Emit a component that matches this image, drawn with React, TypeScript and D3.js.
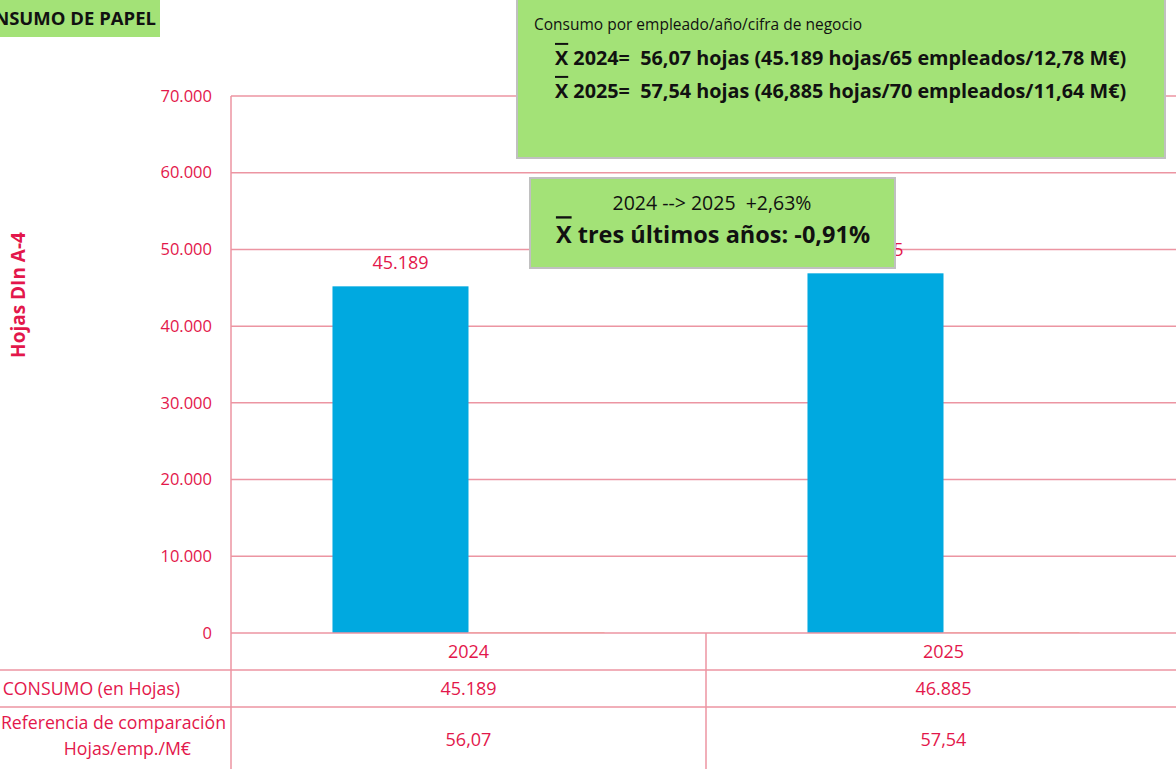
import React from "react";
import * as d3 from "d3";

const years = ["2024", "2025"];
const consumo = [45189, 46885];
const referencia = [56.07, 57.54];
const consumoLabels = ["45.189", "46.885"];
const referenciaLabels = ["56,07", "57,54"];
const yTicks = [0, 10000, 20000, 30000, 40000, 50000, 60000, 70000];

const RED = "#e3174b";
const GRID = "#ec95a2";
const GREEN = "#a3e277";
const BLUE = "#00a9e0";
const FONT = "'Open Sans', sans-serif";

const W = 1176;
const H = 769;
const margin = { top: 96, left: 231, bottom: 136 };

const Xbar = ({ children }: { children: React.ReactNode }) => (
  <>
    <tspan textDecoration="overline">X</tspan>
    {children}
  </>
);

export default function App() {
  const plotBottom = H - margin.bottom;
  const y = d3.scaleLinear().domain([0, 70000]).range([plotBottom, margin.top]);
  const x = d3.scaleBand().domain(years).range([margin.left, margin.left + 950]).paddingInner(0).paddingOuter(0);
  // two series per category (the reference series is tiny on this scale)
  const inner = d3.scaleBand().domain(["consumo", "referencia"]).range([0, x.bandwidth()]).paddingInner(0).paddingOuter(0.746);
  const fmt = (v: number) => d3.format(",")(v).replace(/,/g, ".");

  const row1 = plotBottom + 37;
  const row2 = row1 + 37;
  const pre = { whiteSpace: "pre" } as React.CSSProperties;

  return (
    <svg width={W} height={H} style={{ position: "absolute", left: 0, top: 0, background: "#fff" }} fontFamily={FONT}>
      {/* gridlines + tick labels */}
      {yTicks.map((t) => (
        <g key={t}>
          {t > 0 && <line x1={margin.left} x2={W} y1={y(t)} y2={y(t)} stroke={GRID} strokeWidth={1.5} />}
          <text x={212} y={y(t)} dy="0.35em" textAnchor="end" fill={RED} fontSize={16.5}>
            {fmt(t)}
          </text>
        </g>
      ))}
      <text transform={`translate(25,295) rotate(-90)`} textAnchor="middle" fill={RED} fontSize={19} fontWeight="bold">
        Hojas DIn A-4
      </text>

      {/* bars */}
      {years.map((yr, i) => (
        <g key={yr}>
          <rect x={x(yr)! + inner("consumo")!} width={inner.bandwidth()} y={y(consumo[i])} height={plotBottom - y(consumo[i])} fill={BLUE} />
          <rect x={x(yr)! + inner("referencia")!} width={inner.bandwidth()} y={y(referencia[i])} height={plotBottom - y(referencia[i])} fill="#e97b2e" />
          <text x={x(yr)! + inner("consumo")! + inner.bandwidth() / 2} y={y(consumo[i]) - 24} dy="0.35em" textAnchor="middle" fill={RED} fontSize={18}>
            {consumoLabels[i]}
          </text>
        </g>
      ))}

      {/* data table */}
      <line x1={margin.left} x2={margin.left} y1={margin.top} y2={H} stroke={GRID} strokeWidth={1.5} />
      <line x1={margin.left} x2={W} y1={plotBottom} y2={plotBottom} stroke={GRID} strokeWidth={1.5} />
      <line x1={0} x2={W} y1={row1} y2={row1} stroke={GRID} strokeWidth={1.5} />
      <line x1={0} x2={W} y1={row2} y2={row2} stroke={GRID} strokeWidth={1.5} />
      <line x1={x("2025")} x2={x("2025")} y1={plotBottom} y2={H} stroke={GRID} strokeWidth={1.5} />
      {years.map((yr, i) => {
        const cx = x(yr)! + x.bandwidth() / 2;
        return (
          <g key={yr} fill={RED} fontSize={18} textAnchor="middle">
            <text x={cx} y={(plotBottom + row1) / 2} dy="0.35em">{yr}</text>
            <text x={cx} y={(row1 + row2) / 2} dy="0.35em">{consumoLabels[i]}</text>
            <text x={cx} y={740} dy="0.35em">{referenciaLabels[i]}</text>
          </g>
        );
      })}
      <g fill={RED} fontSize={17.7} textAnchor="end">
        <text x={180} y={(row1 + row2) / 2} dy="0.35em">CONSUMO (en Hojas)</text>
        <text x={226} y={723} dy="0.35em">Referencia de comparación</text>
        <text x={191} y={749} dy="0.35em">Hojas/emp./M€</text>
      </g>

      {/* title */}
      <rect x={-2} y={-2} width={162} height={39} fill={GREEN} />
      <text x={156} y={19} dy="0.35em" textAnchor="end" fontSize={18.5} fontWeight="bold" fill="#111">
        CONSUMO DE PAPEL
      </text>

      {/* info box */}
      <rect x={517} y={-2} width={648} height={160} fill={GREEN} stroke="#c0c0c0" strokeWidth={2} />
      <g fill="#111">
        <text x={534} y={25} dy="0.35em" fontSize={15.5}>Consumo por empleado/año/cifra de negocio</text>
        <text x={555} y={58} dy="0.35em" fontWeight="bold" fontSize={19.8} style={pre}>
          <Xbar>{" 2024=  56,07 hojas (45.189 hojas/65 empleados/12,78 M€)"}</Xbar>
        </text>
        <text x={555} y={91} dy="0.35em" fontWeight="bold" fontSize={19.8} style={pre}>
          <Xbar>{" 2025=  57,54 hojas (46,885 hojas/70 empleados/11,64 M€)"}</Xbar>
        </text>
      </g>

      <rect x={530} y={178} width={365} height={90} fill={GREEN} stroke="#c0c0c0" strokeWidth={2} />
      <text x={712} y={203} dy="0.35em" textAnchor="middle" fill="#111" fontSize={19.5} style={pre}>
        {"2024 --> 2025  +2,63%"}
      </text>
      <text x={713} y={235} dy="0.35em" textAnchor="middle" fill="#111" fontSize={23.5} fontWeight="bold">
        <Xbar>{" tres últimos años: -0,91%"}</Xbar>
      </text>
    </svg>
  );
}
